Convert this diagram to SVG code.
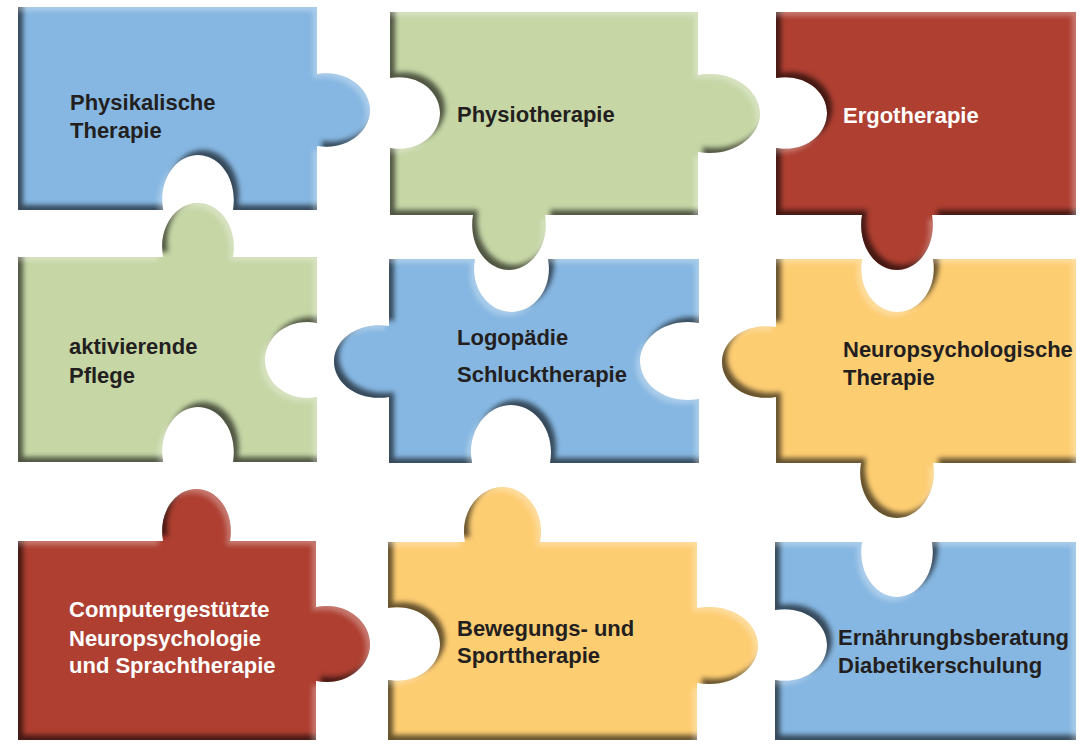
<svg xmlns="http://www.w3.org/2000/svg" width="1080" height="744" viewBox="0 0 1080 744">
<defs>
<filter id="bevel" x="-10%" y="-10%" width="120%" height="120%" color-interpolation-filters="sRGB">
  <feGaussianBlur in="SourceAlpha" stdDeviation="2.5" result="b"/>
  <feOffset in="b" dx="5" dy="-5" result="o1"/>
  <feComposite in="SourceAlpha" in2="o1" operator="out" result="sh"/>
  <feFlood flood-color="#000" flood-opacity="0.6"/>
  <feComposite in2="sh" operator="in" result="shadow"/>
  <feOffset in="b" dx="-4" dy="4" result="o2"/>
  <feComposite in="SourceAlpha" in2="o2" operator="out" result="hl"/>
  <feFlood flood-color="#fff" flood-opacity="0.3"/>
  <feComposite in2="hl" operator="in" result="highlight"/>
  <feMerge><feMergeNode in="SourceGraphic"/><feMergeNode in="shadow"/><feMergeNode in="highlight"/></feMerge>
</filter>
</defs>
<style>
.p{filter:url(#bevel);}
.blue{fill:#86b7e2;}
.green{fill:#c6d6a5;}
.red{fill:#ae3f31;}
.yellow{fill:#fdcd72;}
text{font-family:"Liberation Sans",Arial,sans-serif;font-weight:bold;font-size:22px;fill:#231f20;}
text.w{fill:#ffffff;}
</style>
<rect width="1080" height="744" fill="#ffffff"/>

<g id="physikalische-therapie">
<path class="p blue" d="M18 7 H317 V74 C346 69 370 88 370 110 C370 132 346 151 317 146 V210 H233 C238 180 220 155 198 155 C176 155 158 180 163 210 H18 Z"/>
<text x="70" y="110">Physikalische</text>
<text x="70" y="138">Therapie</text>
</g>

<g id="physiotherapie">
<path class="p green" d="M390 12 H698 V75 C732 69 760 90 760 113.5 C760 137 732 158 698 152 V215 H545 C550 245 531 270 509 270 C487 270 468 245 473 215 H390 V148 C417.5 153 440 135 440 113 C440 91 417.5 73 390 78 Z"/>
<text x="457" y="122">Physiotherapie</text>
</g>

<g id="ergotherapie">
<path class="p red" d="M776 12 H1076 V215 H932 C937 245 919 270 897 270 C875 270 857 245 862 215 H776 V148 C804 153 827 135 827 113 C827 91 804 73 776 78 Z"/>
<text class="w" x="843" y="123">Ergotherapie</text>
</g>

<g id="aktivierende-pflege">
<path class="p green" d="M18 257 H163 C158 227 176 203 198 203 C220 203 238 227 233 257 H317 V323 C288 317.5 265 337 265 360 C265 383 288 402.5 317 397 V462 H233 C238 432 220 407 198 407 C176 407 158 432 163 462 H18 Z"/>
<text x="69" y="354">aktivierende</text>
<text x="69" y="383">Pflege</text>
</g>

<g id="logopaedie">
<path class="p blue" d="M389 259 H475 C469.5 288 488.5 312 511.5 312 C534.5 312 553.5 288 548 259 H699 V323 C667 317 640 337 640 361 C640 385 667 405 699 399 V463 H550 C556 431 535 405 511 405 C487 405 466 431 472 463 H389 V397 C359 402 334 384 334 361.5 C334 339 359 321 389 326 Z"/>
<text x="457" y="345">Logopädie</text>
<text x="457" y="382">Schlucktherapie</text>
</g>

<g id="neuropsychologische-therapie">
<path class="p yellow" d="M776 259 H862 C857 288 875.5 312 897.5 312 C919.5 312 938 288 933 259 H1076 V463 H933 C938 493 919 518 897 518 C875 518 856 493 861 463 H776 V397 C746 402 722 384 722 362 C722 340 746 322 776 327 Z"/>
<text x="843" y="357">Neuropsychologische</text>
<text x="843" y="385">Therapie</text>
</g>

<g id="computergestuetzte">
<path class="p red" d="M18 541 H163 C158 512 175.5 489 196.5 489 C217.5 489 235 512 230 541 H316 V607 C346 601 370 621 370 644 C370 667 346 687 316 681 V740 H18 Z"/>
<text class="w" x="69" y="617">Computergestützte</text>
<text class="w" x="69" y="646">Neuropsychologie</text>
<text class="w" x="69" y="673">und Sprachtherapie</text>
</g>

<g id="bewegungstherapie">
<path class="p yellow" d="M388 542 H465 C459 512 479.5 487 502.5 487 C525.5 487 546 512 540 542 H697 V608 C731 602 758 622 758 645.5 C758 669 731 689 697 683 V740 H388 V680 C417 685 440 666 440 644 C440 622 417 603 388 608 Z"/>
<text x="457" y="636">Bewegungs- und</text>
<text x="457" y="663">Sporttherapie</text>
</g>

<g id="ernaehrungsberatung">
<path class="p blue" d="M775 542 H862 C857 572 875 597 897 597 C919 597 937 572 932 542 H1076 V740 H775 V680 C804 685 827 667 827 645 C827 623 804 605 775 610 Z"/>
<text x="838" y="645">Ernährungbsberatung</text>
<text x="838" y="673">Diabetikerschulung</text>
</g>
</svg>
